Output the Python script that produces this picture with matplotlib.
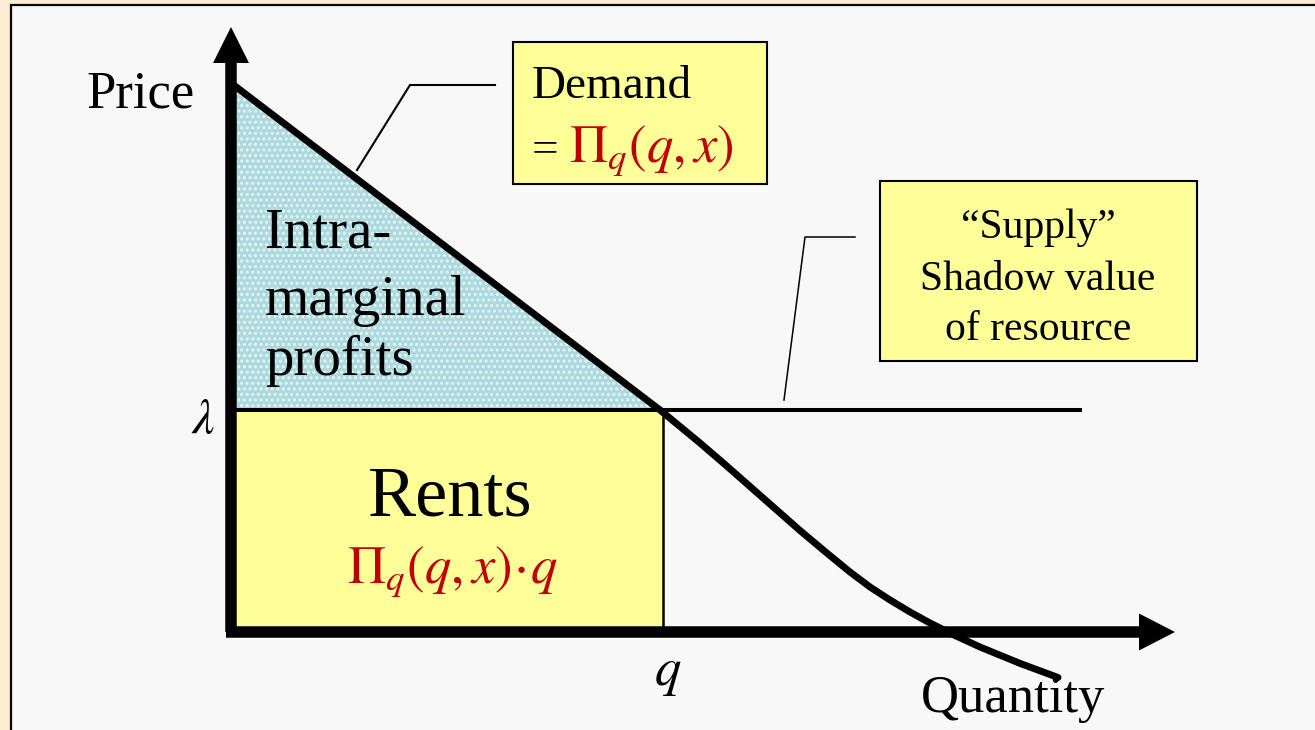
import matplotlib.pyplot as plt
from matplotlib.patches import Rectangle, Polygon, FancyArrow

plt.rcParams['font.family'] = ['Liberation Serif', 'DejaVu Serif']
plt.rcParams['mathtext.fontset'] = 'stix'
plt.rcParams['hatch.linewidth'] = 1.5

# demand curve (quantity, price)
demand_q = [0.0, 4.29, 4.69, 4.94, 5.19, 5.44, 5.69, 5.94, 6.19, 6.39, 6.59,
            6.79, 6.99, 7.24, 7.49, 7.89, 8.27]
demand_p = [5.43, 2.16, 1.83, 1.615, 1.395, 1.175, 0.955, 0.745, 0.54, 0.39, 0.26,
            0.14, 0.03, -0.095, -0.21, -0.374, -0.515]

shadow_value = 2.16      # lambda
quantity = 4.32          # q
supply_end = 8.51
axis_tip_q = 9.44
axis_tip_p = 5.99

RED = '#c00000'
YELLOW = '#ffff99'
TEAL = '#acd9dd'


def setup_fig():
    fig = plt.figure(figsize=(13.15, 7.30), dpi=100, facecolor='#fbecd3')
    ax = fig.add_axes([0, 0, 1, 1])
    ax.set_xlim(-2.31, 10.84)
    ax.set_ylim(-1.04, 6.26)
    ax.axis('off')
    # slide panel
    ax.add_patch(Rectangle((11 / 1315, -0.01), 1.0, 1.0 - 5 / 730 + 0.01,
                           transform=ax.transAxes, facecolor='#f8f8f8',
                           edgecolor='black', lw=1.6, zorder=0))
    return fig, ax


def draw_areas(ax):
    tri_pts = [(0, demand_p[0]), (0, shadow_value), (demand_q[1], shadow_value)]
    ax.add_patch(Polygon(tri_pts, closed=True, facecolor=TEAL, edgecolor='none', zorder=1))
    ax.add_patch(Polygon(tri_pts, closed=True, facecolor='none', edgecolor='#e6f4f5',
                         hatch='...', lw=0, zorder=1))
    ax.add_patch(Rectangle((0, 0), quantity, shadow_value, facecolor=YELLOW,
                           edgecolor='none', zorder=1))
    ax.plot([quantity, quantity], [0, shadow_value], color='black', lw=1.8, zorder=2)


def draw_lines(ax):
    ax.plot([0, supply_end], [shadow_value, shadow_value], color='black', lw=2.9,
            solid_capstyle='butt', zorder=3)
    ax.plot(demand_q, demand_p, color='black', lw=5, solid_capstyle='round',
            solid_joinstyle='round', zorder=4)


def draw_axes(ax):
    ax.add_patch(FancyArrow(-0.05, -0.06, axis_tip_q + 0.05, 0, width=0.115,
                            head_width=0.37, head_length=0.36,
                            length_includes_head=True, color='black', lw=0, zorder=5))
    ax.add_patch(FancyArrow(0, -0.06, 0, axis_tip_p + 0.06, width=0.115,
                            head_width=0.36, head_length=0.36,
                            length_includes_head=True, color='black', lw=0, zorder=5))


def draw_labels(ax):
    ax.text(-0.90, 5.19, 'Price', fontsize=38, ha='center', va='baseline')
    ax.text(7.82, -0.86, 'Quantity', fontsize=38, ha='center', va='baseline')
    ax.text(-0.28, 1.93, r'$\lambda$', fontsize=36, ha='center', va='baseline')
    ax.text(4.37, -0.59, r'$q$', fontsize=38, ha='center', va='baseline')

    for text, p in zip(['Intra-', 'marginal', 'profits'], [3.78, 3.11, 2.51]):
        ax.text(0.34, p, text, fontsize=41, ha='left', va='baseline', zorder=6)

    ax.text(2.19, 1.11, 'Rents', fontsize=52, ha='center', va='baseline', zorder=6)
    ax.text(2.21, 0.43, r'$\Pi_q(q,x)\!\cdot\! q$', fontsize=38, color=RED,
            ha='center', va='baseline', zorder=6)


def draw_callouts(ax):
    # demand box
    ax.add_patch(Rectangle((2.82, 4.42), 2.54, 1.42, facecolor=YELLOW,
                           edgecolor='black', lw=1.5, zorder=6))
    ax.text(3.01, 5.28, 'Demand', fontsize=34, ha='left', va='baseline', zorder=7)
    ax.text(3.01, 4.64, '=', fontsize=34, ha='left', va='baseline', zorder=7)
    ax.text(3.38, 4.64, r'$\Pi_q(q,x)$', fontsize=38, color=RED,
            ha='left', va='baseline', zorder=7)
    ax.plot([2.64, 1.79, 1.26], [5.41, 5.41, 4.56], color='black', lw=1.5, zorder=6)

    # supply box
    ax.add_patch(Rectangle((6.49, 2.65), 3.17, 1.80, facecolor=YELLOW,
                           edgecolor='black', lw=1.5, zorder=6))
    for text, p in zip(['\u201cSupply\u201d', 'Shadow value', 'of resource'],
                       [3.88, 3.36, 2.86]):
        ax.text(8.07, p, text, fontsize=30, ha='center', va='baseline', zorder=7)
    ax.plot([6.24, 5.74, 5.53], [3.89, 3.89, 2.26], color='black', lw=1.1, zorder=6)


def main():
    fig, ax = setup_fig()
    draw_areas(ax)
    draw_lines(ax)
    draw_axes(ax)
    draw_labels(ax)
    draw_callouts(ax)
    fig.savefig('out.png', dpi=100, facecolor=fig.get_facecolor())


if __name__ == '__main__':
    main()
